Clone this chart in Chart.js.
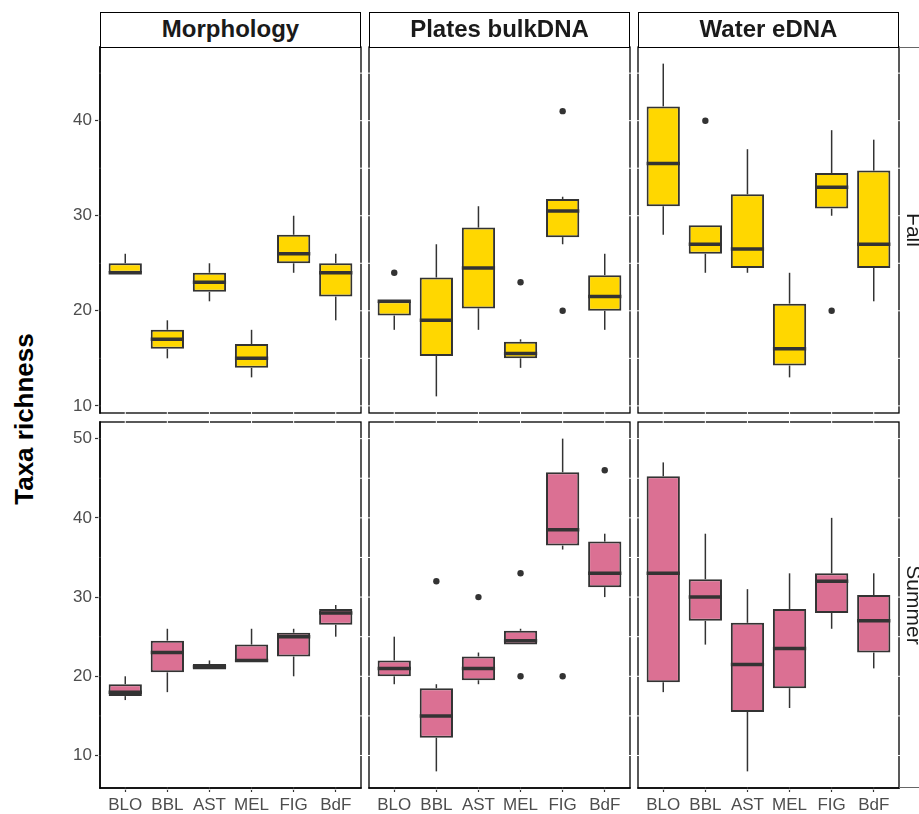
<!DOCTYPE html>
<html>
<head>
<meta charset="utf-8">
<script src="https://cdn.jsdelivr.net/npm/chart.js@4.4.1/dist/chart.umd.min.js"></script>
<style>
  html, body { margin: 0; padding: 0; background: #fff; }
  body { width: 919px; height: 814px; position: relative; overflow: hidden; font-family: "Liberation Sans", Arial, sans-serif; }
  canvas { position: absolute; }
  .strip { position: absolute; box-sizing: border-box; border: 1.3px solid #000; background: #fff; text-align: center;
           font-weight: bold; font-size: 24px; color: #1a1a1a; z-index: 2; }
  .side { position: absolute; width: 200px; height: 24px; line-height: 24px; font-size: 21px; color: #1a1a1a;
          text-align: center; white-space: nowrap; transform: rotate(90deg); z-index: 2; }
  .ytitle { position: absolute; width: 300px; height: 30px; line-height: 30px; font-size: 26px; font-weight: bold;
            color: #000; text-align: center; white-space: nowrap; transform: rotate(-90deg); }
  .hline { position: absolute; height: 1px; background: #666; z-index: 2; }
</style>
</head>
<body>
<div class="ytitle" style="left:-126px; top:404px;">Taxa richness</div>
<script>
const categories = ['BLO', 'BBL', 'AST', 'MEL', 'FIG', 'BdF'];
const methods = ['Morphology', 'Plates bulkDNA', 'Water eDNA'];
const seasons = ['Fall', 'Summer'];

const fallTicks = [10, 20, 30, 40];
const summerTicks = [10, 20, 30, 40, 50];
const fallGrid = [10, 15, 20, 25, 30, 35, 40, 45];
const summerGrid = [10, 15, 20, 25, 30, 35, 40, 45, 50];
const fallRange = [9.25, 47.75];
const summerRange = [5.9, 52.1];

// each row: [lower whisker, Q1, median, Q3, upper whisker]
const morphologyFall = [[24, 24, 24, 25, 26], [15, 16, 17, 18, 19], [21, 22, 23, 24, 25],
                        [13, 14, 15, 16.5, 18], [24, 25, 26, 28, 30], [19, 21.5, 24, 25, 26]];
const platesFall = [[18, 19.5, 21, 21, 21], [11, 15.25, 19, 23.5, 27], [18, 20.25, 24.5, 28.75, 31],
                    [14, 15, 15.5, 16.75, 17], [27, 27.75, 30.5, 31.75, 32], [18, 20, 21.5, 23.75, 26]];
const waterFall = [[28, 31, 35.5, 41.5, 46], [24, 26, 27, 29, 29], [24, 24.5, 26.5, 32.25, 37],
                   [13, 14.25, 16, 20.75, 24], [30, 30.75, 33, 34.5, 39], [21, 24.5, 27, 34.75, 38]];
const morphologySummer = [[17, 17.5, 18, 19, 20], [18, 20.5, 23, 24.5, 26], [20.85, 20.85, 21.2, 21.55, 22],
                          [21.8, 21.8, 22, 24, 26], [20, 22.5, 25, 25.5, 26], [25, 26.5, 28, 28.5, 29]];
const platesSummer = [[19, 20, 21, 22, 25], [8, 12.25, 15, 18.5, 19], [19, 19.5, 21, 22.5, 23],
                      [24, 24, 24.5, 25.75, 26], [36, 36.5, 38.5, 45.75, 50], [30, 31.25, 33, 37, 38]];
const waterSummer = [[18, 19.25, 33, 45.25, 47], [24, 27, 30, 32.25, 38], [8, 15.5, 21.5, 26.75, 31],
                     [16, 18.5, 23.5, 28.5, 33], [26, 28, 32, 33, 40], [21, 23, 27, 30.25, 33]];

// outliers: [category index, value]
const morphologyFallOut = [];
const platesFallOut = [[0, 24], [3, 23], [4, 41], [4, 20]];
const waterFallOut = [[1, 40], [4, 20]];
const morphologySummerOut = [];
const platesSummerOut = [[1, 32], [2, 30], [3, 33], [3, 20], [4, 20], [5, 46]];
const waterSummerOut = [];

const fallFill = '#FFD700';
const summerFill = '#DB7093';
const ink = '#333333';

Chart.defaults.font.family = '"Liberation Sans", Arial, sans-serif';

const colLeft = [100, 369, 638];
const rowTop = [47, 422];
const panelW = 261, panelH = 366;
const PAD = 16, Y_AXIS_W = 84, X_AXIS_H = 28;

const panels = [
    { row: 0, col: 0, stats: morphologyFall, out: morphologyFallOut },
    { row: 0, col: 1, stats: platesFall, out: platesFallOut },
    { row: 0, col: 2, stats: waterFall, out: waterFallOut },
    { row: 1, col: 0, stats: morphologySummer, out: morphologySummerOut },
    { row: 1, col: 1, stats: platesSummer, out: platesSummerOut },
    { row: 1, col: 2, stats: waterSummer, out: waterSummerOut }
];

function line(ctx, x1, y1, x2, y2) {
    ctx.beginPath();
    ctx.moveTo(x1, y1);
    ctx.lineTo(x2, y2);
    ctx.stroke();
}

// whiskers under the boxes, medians on top
const boxParts = {
    id: 'boxParts',
    beforeDatasetsDraw(chart, args, opts) {
        const { ctx, scales: { x, y } } = chart;
        ctx.save();
        ctx.strokeStyle = ink;
        ctx.lineWidth = 1.5;
        opts.stats.forEach((s, i) => {
            const px = x.getPixelForValue(i);
            if (s[0] < s[1]) line(ctx, px, y.getPixelForValue(s[0]), px, y.getPixelForValue(s[1]));
            if (s[4] > s[3]) line(ctx, px, y.getPixelForValue(s[3]), px, y.getPixelForValue(s[4]));
        });
        ctx.restore();
    },
    afterDatasetsDraw(chart, args, opts) {
        const { ctx, scales: { y } } = chart;
        const bars = chart.getDatasetMeta(1).data;
        ctx.save();
        ctx.strokeStyle = ink;
        ctx.lineWidth = 3.5;
        opts.stats.forEach((s, i) => {
            const b = bars[i];
            const py = y.getPixelForValue(s[2]);
            line(ctx, b.x - b.width / 2, py, b.x + b.width / 2, py);
        });
        ctx.restore();
    }
};

// panel border, small white grid marks cutting it, axis lines
const panelFrame = {
    id: 'panelFrame',
    afterDraw(chart, args, opts) {
        const { ctx, chartArea: a, scales: { x, y } } = chart;
        ctx.save();
        ctx.strokeStyle = '#000';
        ctx.lineWidth = 1.3;
        ctx.strokeRect(a.left, a.top, a.right - a.left, a.bottom - a.top);
        ctx.strokeStyle = '#fff';
        ctx.lineWidth = 1;
        opts.grid.forEach(v => {
            const py = y.getPixelForValue(v);
            line(ctx, a.left - 2, py, a.left + 2, py);
            line(ctx, a.right - 2, py, a.right + 2, py);
        });
        categories.forEach((c, i) => {
            const px = x.getPixelForValue(i);
            line(ctx, px, a.top - 2, px, a.top + 2);
            line(ctx, px, a.bottom - 2, px, a.bottom + 2);
        });
        ctx.strokeStyle = '#000';
        ctx.lineWidth = 1.5;
        if (opts.leftAxis) line(ctx, a.left, a.top - 0.7, a.left, a.bottom + 0.7);
        if (opts.bottomAxis) line(ctx, a.left - 0.7, a.bottom, a.right + 0.7, a.bottom);
        ctx.restore();
    }
};

panels.forEach(p => {
    const showY = p.col === 0;
    const showX = p.row === 1;
    const range = p.row === 0 ? fallRange : summerRange;
    const ticks = p.row === 0 ? fallTicks : summerTicks;

    const cv = document.createElement('canvas');
    const w = PAD + (showY ? Y_AXIS_W : 0) + panelW + PAD;
    const h = PAD + panelH + (showX ? X_AXIS_H : 0) + PAD;
    cv.width = w;
    cv.height = h;
    cv.style.left = (colLeft[p.col] - PAD - (showY ? Y_AXIS_W : 0)) + 'px';
    cv.style.top = (rowTop[p.row] - PAD) + 'px';
    cv.style.width = w + 'px';
    cv.style.height = h + 'px';
    document.body.appendChild(cv);

    new Chart(cv, {
        type: 'bar',
        data: {
            datasets: [{
                type: 'scatter',
                data: p.out.map(o => ({ x: o[0], y: o[1] })),
                pointRadius: 3.2,
                pointBackgroundColor: ink,
                pointBorderWidth: 0
            }, {
                type: 'bar',
                data: p.stats.map((s, i) => ({ x: i, y: [s[1], s[3]] })),
                backgroundColor: p.row === 0 ? fallFill : summerFill,
                borderColor: ink,
                borderWidth: 2,
                borderSkipped: false,
                barPercentage: 0.79,
                categoryPercentage: 1
            }]
        },
        options: {
            responsive: false,
            animation: false,
            devicePixelRatio: 1,
            layout: { padding: PAD },
            plugins: {
                legend: { display: false },
                tooltip: { enabled: false },
                boxParts: { stats: p.stats },
                panelFrame: { grid: p.row === 0 ? fallGrid : summerGrid, leftAxis: showY, bottomAxis: showX }
            },
            scales: {
                x: {
                    type: 'linear',
                    display: showX,
                    offset: false,
                    min: -0.6,
                    max: 5.6,
                    afterBuildTicks: s => { s.ticks = categories.map((c, i) => ({ value: i })); },
                    afterFit: s => { if (showX) s.height = X_AXIS_H; },
                    border: { display: false },
                    grid: { offset: false, drawOnChartArea: false, drawTicks: true, tickLength: 4, tickColor: ink, tickWidth: 1.2 },
                    ticks: {
                        autoSkip: false,
                        maxRotation: 0,
                        padding: 3,
                        color: '#4d4d4d',
                        font: { size: 17 },
                        callback: v => categories[v]
                    }
                },
                y: {
                    type: 'linear',
                    display: showY,
                    min: range[0],
                    max: range[1],
                    afterBuildTicks: s => { s.ticks = ticks.map(v => ({ value: v })); },
                    afterFit: s => { if (showY) s.width = Y_AXIS_W; },
                    border: { display: false },
                    grid: { drawOnChartArea: false, drawTicks: true, tickLength: 5, tickColor: ink, tickWidth: 1.2 },
                    ticks: { padding: 3, color: '#4d4d4d', font: { size: 17 } }
                }
            }
        },
        plugins: [boxParts, panelFrame]
    });
});

// facet strips on top
methods.forEach((m, i) => {
    const d = document.createElement('div');
    d.className = 'strip';
    d.style.left = colLeft[i] + 'px';
    d.style.top = '12px';
    d.style.width = panelW + 'px';
    d.style.height = '35.5px';
    d.style.lineHeight = '32.9px';
    d.textContent = m;
    document.body.appendChild(d);
});

// season strips on the right
seasons.forEach((s, i) => {
    const d = document.createElement('div');
    d.className = 'side';
    const cy = rowTop[i] + panelH / 2;
    d.style.left = (914 - 100) + 'px';
    d.style.top = (cy - 12) + 'px';
    d.textContent = s;
    document.body.appendChild(d);
});
[47, 787].forEach(yy => {
    const d = document.createElement('div');
    d.className = 'hline';
    d.style.left = '899px';
    d.style.width = '20px';
    d.style.top = yy + 'px';
    document.body.appendChild(d);
});
</script>
</body>
</html>
